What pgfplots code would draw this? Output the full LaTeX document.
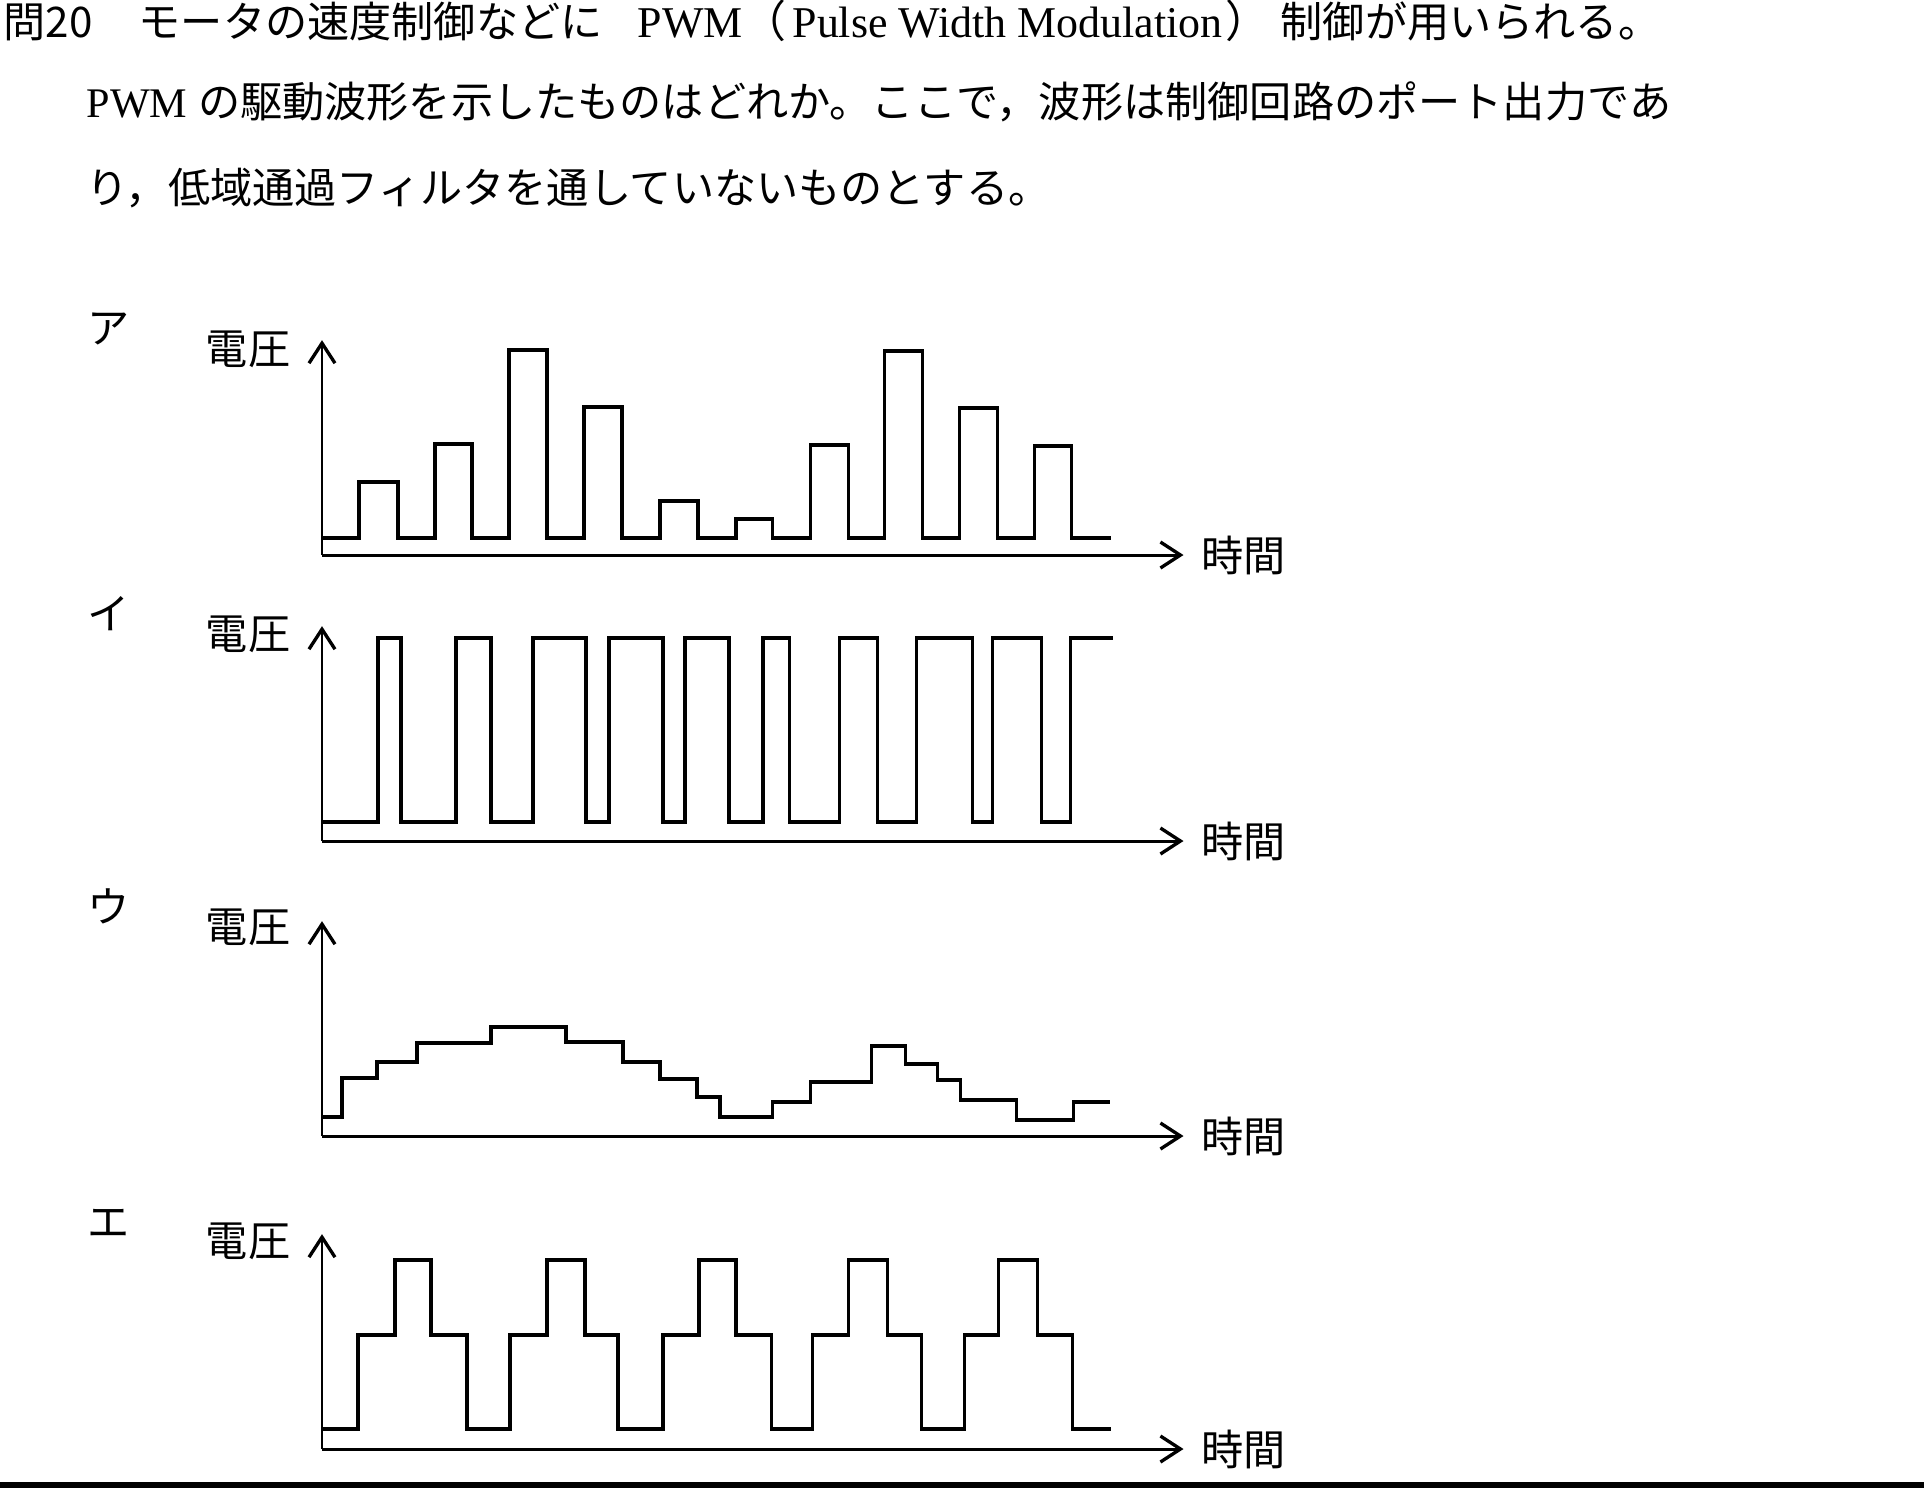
\documentclass[border=0pt]{standalone}
\usepackage{fontspec}
\setmainfont{Liberation Serif}
\newfontfamily\jp{Noto Sans CJK JP}
\usepackage{pgfplots}
\pgfplotsset{compat=1.18}
\usetikzlibrary{arrows.meta}

\pgfplotsset{wave/.style={
  x=0.01cm, y=0.01cm, xmin=0, xmax=862, ymin=0, ymax=215,
  axis lines=left, enlargelimits=false, clip=false,
  xtick=\empty, ytick=\empty,
  anchor=south west,
  axis line style={line width=0.85pt, -{Straight Barb[length=2mm,width=2.6mm,line width=0.95pt]}},
}}
\tikzset{lab/.style={font=\fontsize{12}{14}\selectfont\jp, inner sep=0pt}}

\begin{document}
\begin{tikzpicture}
\path[use as bounding box] (0,0) rectangle (19.24,-14.88);

% question text
\node[lab, anchor=base west] at (0.03,-0.375) {問20};
\node[lab, anchor=base west] at (1.38,-0.375) {モータの速度制御などに};
\node[font=\fontsize{12.5}{14}\selectfont, inner sep=0pt, anchor=base west] at (6.37,-0.375)
  {PWM{\jp （}\hspace{0.06cm}Pulse Width Modulation\hspace{0.03cm}{\jp ）}};
\node[lab, anchor=base west] at (12.80,-0.375) {制御が用いられる。};
\node[font=\fontsize{12}{14}\selectfont, inner sep=0pt, anchor=base west] at (0.86,-1.17)
  {PWM {\jp の駆動波形を示したものはどれか。ここで，波形は制御回路のポート出力であ}};
\node[lab, anchor=base west] at (0.86,-2.03) {り，低域通過フィルタを通していないものとする。};

% ア
\begin{axis}[wave, at={(3.22cm,-5.55cm)}]
\addplot[black, line width=1pt, const plot] coordinates {
(0,17) (37,73) (76,17) (113,111) (150,17) (187,205) (225,17) (262,148) (300,17)
(338,54) (376,17) (414,36) (451,17) (489,110) (527,17) (563,204) (601,17)
(638,147) (676,17) (713,109) (750,17) (789,17)};
\node[lab] at (axis cs:-74,206) {電圧};
\node[lab] at (axis cs:922,0) {時間};
\node[lab] at (axis cs:-214,226) {ア};
\end{axis}

% イ
\begin{axis}[wave, at={(3.22cm,-8.41cm)}]
\addplot[black, line width=1pt, const plot] coordinates {
(0,19) (56,203) (79,19) (134,203) (169,19) (211,203) (264,19) (287,203) (341,19)
(363,203) (407,19) (441,203) (468,19) (518,203) (556,19) (595,203) (651,19)
(671,203) (720,19) (749,203) (791,203)};
\node[lab] at (axis cs:-74,207) {電圧};
\node[lab] at (axis cs:922,0) {時間};
\node[lab] at (axis cs:-214,228) {イ};
\end{axis}

% ウ
\begin{axis}[wave, at={(3.22cm,-11.36cm)}]
\addplot[black, line width=1pt, const plot] coordinates {
(0,19) (20,58) (55,74) (95,93) (169,109) (244,94) (301,74) (338,57) (375,39)
(398,19) (451,34) (489,54) (550,90) (584,72) (616,56) (639,36) (695,16)
(752,34) (788,34)};
\node[lab] at (axis cs:-74,209) {電圧};
\node[lab] at (axis cs:922,0) {時間};
\node[lab] at (axis cs:-214,230) {ウ};
\end{axis}

% エ
\begin{axis}[wave, at={(3.22cm,-14.49cm)}]
\addplot[black, line width=1pt, const plot] coordinates {
(0,20) (36,114) (73,189) (109,114) (145,20) (188,114) (225,189) (263,114)
(296,20) (341,114) (377,189) (414,114) (450,20) (491,114) (527,189) (566,114)
(600,20) (643,114) (677,189) (716,114) (751,20) (789,20)};
\node[lab] at (axis cs:-74,208) {電圧};
\node[lab] at (axis cs:922,0) {時間};
\node[lab] at (axis cs:-214,226) {エ};
\end{axis}

\fill[black] (0,-14.82) rectangle (19.24,-14.88);
\end{tikzpicture}
\end{document}
